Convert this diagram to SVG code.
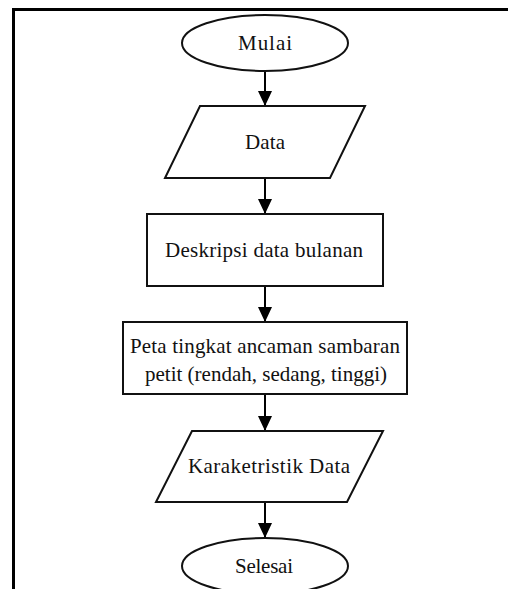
<svg xmlns="http://www.w3.org/2000/svg" width="508" height="589" viewBox="0 0 508 589">
  <defs>
    <marker id="arrow" markerWidth="15" markerHeight="14" refX="15" refY="7" orient="auto" markerUnits="userSpaceOnUse" viewBox="0 0 15 14">
      <path d="M0,0 L15,7 L0,14 Z" fill="#000"/>
    </marker>
    <style>
      .shape { fill: #fff; stroke: #111; stroke-width: 2; }
      .label { font-family: "Liberation Serif", "Times New Roman", serif; font-size: 21px; fill: #111; text-anchor: middle; }
      .conn { stroke: #000; stroke-width: 2; fill: none; }
    </style>
  </defs>

  <rect x="0" y="0" width="508" height="589" fill="#fff"/>

  <!-- page frame: top and left edges -->
  <g id="frame">
    <line x1="12" y1="9.5" x2="508" y2="9.5" stroke="#000" stroke-width="3"/>
    <line x1="13.5" y1="8" x2="13.5" y2="589" stroke="#000" stroke-width="3"/>
  </g>

  <g id="connectors">
    <line class="conn" x1="265" y1="71" x2="265" y2="106" marker-end="url(#arrow)"/>
    <line class="conn" x1="265" y1="178" x2="265" y2="214" marker-end="url(#arrow)"/>
    <line class="conn" x1="265" y1="286" x2="265" y2="322" marker-end="url(#arrow)"/>
    <line class="conn" x1="265" y1="394" x2="265" y2="431" marker-end="url(#arrow)"/>
    <line class="conn" x1="265" y1="502" x2="265" y2="538" marker-end="url(#arrow)"/>
  </g>

  <g id="mulai">
    <ellipse class="shape" cx="265" cy="43" rx="83" ry="28"/>
    <text class="label" x="265" y="50" textLength="54" lengthAdjust="spacing">Mulai</text>
  </g>

  <g id="data">
    <polygon class="shape" points="200,106 365,106 330,178 165,178"/>
    <text class="label" x="265" y="149" textLength="40" lengthAdjust="spacing">Data</text>
  </g>

  <g id="deskripsi">
    <rect class="shape" x="147" y="214" width="236" height="72"/>
    <text class="label" x="264" y="257" textLength="198" lengthAdjust="spacing">Deskripsi data bulanan</text>
  </g>

  <g id="peta">
    <rect class="shape" x="123" y="322" width="284" height="72"/>
    <text class="label" x="265" y="353" textLength="270" lengthAdjust="spacing">Peta tingkat ancaman sambaran</text>
    <text class="label" x="266" y="381" textLength="242" lengthAdjust="spacing">petit (rendah, sedang, tinggi)</text>
  </g>

  <g id="karakteristik">
    <polygon class="shape" points="192,431 383,431 347,502 156,502"/>
    <text class="label" x="269" y="473" textLength="162" lengthAdjust="spacing">Karaketristik Data</text>
  </g>

  <g id="selesai">
    <ellipse class="shape" cx="265" cy="566" rx="83" ry="28"/>
    <text class="label" x="264" y="573" textLength="58" lengthAdjust="spacing">Selesai</text>
  </g>
</svg>
